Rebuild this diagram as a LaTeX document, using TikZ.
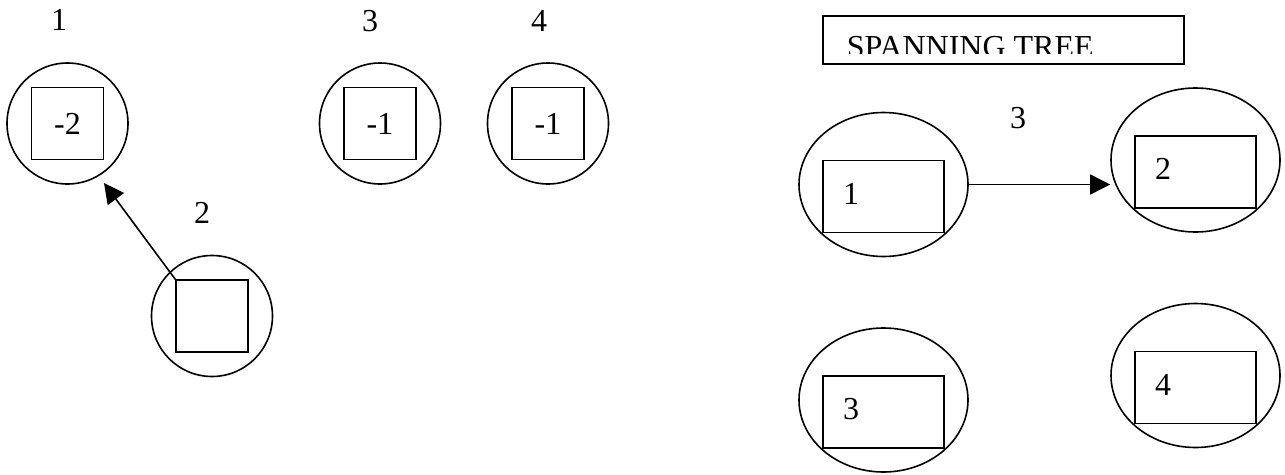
\documentclass[tikz,border=0pt]{standalone}
\usepackage{fontspec}
\setmainfont{Liberation Serif}
\usetikzlibrary{shapes.geometric,arrows.meta}

\begin{document}
\begin{tikzpicture}[x=1pt,y=-1pt,line width=1.6pt,
    font=\fontsize{32}{38}\selectfont,
    vert/.style={circle,draw,minimum size=121pt,inner sep=0pt},
    box/.style={rectangle,draw,minimum size=72pt,inner sep=0pt},
    tvert/.style={ellipse,draw,minimum width=169pt,minimum height=144pt,inner sep=0pt},
    tbox/.style={rectangle,draw,minimum width=121pt,minimum height=72pt,inner sep=0pt},
    arr/.style={-{Triangle[length=20pt,width=20pt]}}]
\useasboundingbox (0,0) rectangle (1285,474);

% Draw vertices
\node[vert] (c1) at (67.5,123.5) {};
\node[box]  (s1) at (c1) {-2};
\node[vert] (c2) at (212,316) {};
\node[box]  (s2) at (c2) {};
\node[vert] (c3) at (380,123.5) {};
\node[box]  (s3) at (c3) {-1};
\node[vert] (c4) at (548,123.5) {};
\node[box]  (s4) at (c4) {-1};

\node (n1) at (59,20) {1};
\node (n2) at (202,213) {2};
\node (n3) at (370,21) {3};
\node (n4) at (539,21) {4};

%
\coordinate (h1) at (104,183);
\draw[arr] (s2.north west) -- (h1);

% spanning tree
\node[draw,minimum width=361pt,minimum height=48pt,inner sep=0pt] (title) at (1003.5,40) {};
\begin{scope}
\clip (title.north west) rectangle ([yshift=11pt]title.south east);
\node[anchor=base west,inner sep=0pt] (ttext) at (846,57) {SPANNING TREE};
\end{scope}

\node[tvert] (e1) at (883.5,184.5) {};
\node[tbox]  (b1) at ([yshift=-12pt]e1.center) {};
\node (l1) at ([xshift=29pt,yshift=3pt]b1.west) {1};
\node[tvert] (e2) at (1195.5,160) {};
\node[tbox]  (b2) at ([yshift=-12pt]e2.center) {};
\node (l2) at ([xshift=29pt,yshift=3pt]b2.west) {2};
\node[tvert] (e3) at (883.5,400) {};
\node[tbox]  (b3) at ([yshift=-12pt]e3.center) {};
\node (l3) at ([xshift=29pt,yshift=3pt]b3.west) {3};
\node[tvert] (e4) at (1195.5,375.5) {};
\node[tbox]  (b4) at ([yshift=-12pt]e4.center) {};
\node (l4) at ([xshift=29pt,yshift=3pt]b4.west) {4};

% draw edge
\node (w) at (1018,118) {3};
\draw[arr] (e1.east) -- (e1.east -| e2.west);
\end{tikzpicture}
\end{document}
